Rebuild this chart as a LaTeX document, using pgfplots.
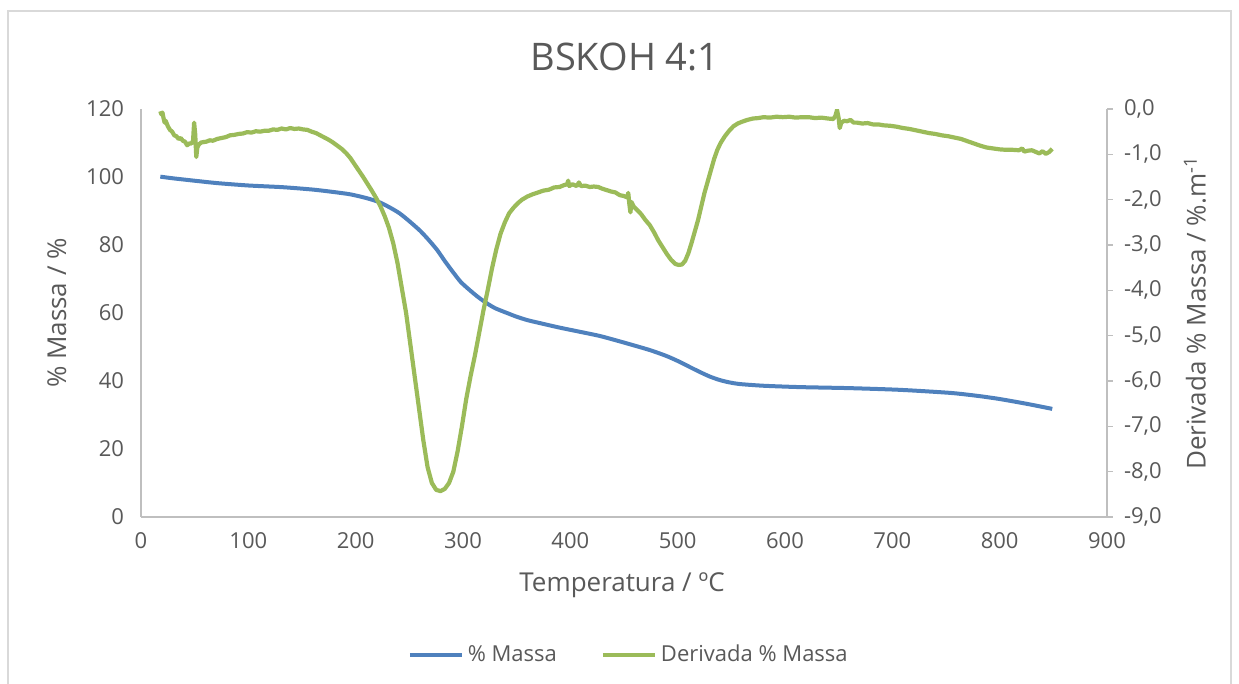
\documentclass[border=0pt]{standalone}
\usepackage{pgfplots}
\pgfplotsset{compat=1.18}
\usepackage{fontspec}
\setmainfont{Open Sans}

\definecolor{txt}{HTML}{595959}
\definecolor{axgray}{HTML}{BFBFBF}
\definecolor{framegray}{HTML}{D9D9D9}
\definecolor{massblue}{HTML}{4F81BD}
\definecolor{derivgreen}{HTML}{9BBB59}

% TGA curve: mass percentage vs temperature
\pgfplotstableread{
T m
18 100.1
30 99.6
50 98.9
71 98.2
100 97.5
132 97.0
160 96.3
179 95.6
195 94.9
210 93.8
222 92.6
232 91.0
241 89.3
250 87.0
260 84.2
268 81.5
276 78.5
283 75.3
291 71.9
298 69.1
306 66.8
314 64.7
322 62.9
330 61.4
341 60.0
350 58.9
360 57.9
372 57.0
390 55.7
410 54.4
428 53.2
450 51.3
474 49.1
490 47.3
502 45.6
512 44.0
521 42.6
530 41.3
539 40.3
548 39.6
558 39.1
580 38.6
614 38.2
660 37.9
707 37.4
754 36.5
780 35.6
800 34.7
825 33.3
849 31.8
}\massdata

% DTG curve: derivative of the mass percentage
\pgfplotstableread{
T d
18 -0.05
19 -0.12
20 -0.08
21 -0.20
22 -0.30
23 -0.26
25 -0.38
27 -0.46
29 -0.50
31 -0.58
33 -0.60
35 -0.66
37 -0.64
39 -0.70
41 -0.72
43 -0.80
45 -0.76
47 -0.76
48.5 -0.70
49.5 -0.30
50.5 -0.55
51.5 -1.06
52.5 -0.85
54 -0.78
56 -0.74
58 -0.73
61 -0.72
64 -0.69
67 -0.70
71 -0.66
75 -0.64
79 -0.62
83 -0.58
87 -0.57
91 -0.55
95 -0.54
99 -0.51
103 -0.52
107 -0.49
111 -0.50
115 -0.48
119 -0.48
123 -0.45
127 -0.46
131 -0.43
135 -0.45
139 -0.42
143 -0.44
147 -0.43
151 -0.45
155 -0.46
159 -0.50
163 -0.53
167 -0.58
171 -0.63
175 -0.68
179 -0.74
183 -0.81
187 -0.88
191 -0.97
195 -1.08
199 -1.22
203 -1.36
207 -1.50
211 -1.65
215 -1.80
219 -1.96
223 -2.14
227 -2.36
231 -2.62
235 -2.96
239 -3.40
243 -3.95
247 -4.50
251 -5.20
255 -5.90
259 -6.60
263 -7.30
267 -7.90
271 -8.25
275 -8.40
279 -8.43
283 -8.38
287 -8.25
291 -8.00
295 -7.55
299 -7.00
303 -6.40
307 -5.90
311 -5.45
315 -4.95
319 -4.45
323 -4.00
327 -3.52
331 -3.10
335 -2.75
339 -2.50
343 -2.30
347 -2.18
351 -2.08
355 -2.00
360 -1.93
365 -1.88
370 -1.84
375 -1.80
380 -1.78
385 -1.73
390 -1.72
394 -1.68
397 -1.66
398 -1.58
399 -1.70
402 -1.66
406 -1.70
408 -1.62
410 -1.70
414 -1.69
418 -1.72
422 -1.71
426 -1.72
430 -1.76
434 -1.79
438 -1.82
442 -1.84
446 -1.90
450 -1.92
453 -1.95
454 -1.85
455 -2.10
456 -2.28
457 -2.05
459 -2.15
462 -2.22
466 -2.32
470 -2.45
474 -2.56
478 -2.72
482 -2.90
486 -3.05
490 -3.20
494 -3.33
498 -3.42
501 -3.44
504 -3.43
507 -3.35
510 -3.18
513 -2.95
516 -2.70
519 -2.45
522 -2.15
525 -1.85
528 -1.60
531 -1.35
534 -1.10
537 -0.90
540 -0.75
544 -0.60
548 -0.48
552 -0.38
556 -0.32
560 -0.28
565 -0.24
570 -0.21
575 -0.20
580 -0.18
586 -0.19
592 -0.17
598 -0.18
604 -0.17
610 -0.19
616 -0.18
622 -0.18
628 -0.20
634 -0.19
640 -0.21
645 -0.22
647 -0.15
648.5 -0.02
650 -0.20
651 -0.42
652.5 -0.30
655 -0.26
658 -0.27
661 -0.24
664 -0.30
667 -0.30
672 -0.32
677 -0.31
682 -0.34
687 -0.34
692 -0.36
698 -0.37
704 -0.39
710 -0.42
716 -0.44
722 -0.47
728 -0.50
734 -0.53
740 -0.55
746 -0.58
752 -0.60
758 -0.63
764 -0.66
770 -0.71
776 -0.76
782 -0.81
788 -0.85
794 -0.87
800 -0.89
806 -0.90
812 -0.90
818 -0.91
821 -0.87
823 -0.94
826 -0.92
830 -0.91
834 -0.95
837 -0.98
840 -0.93
843 -0.99
846 -0.95
849 -0.88
}\derivdata

\pgfplotsset{
  common/.style={
    at={(70.5pt,83.5pt)}, anchor=south west,
    scale only axis, width=483pt, height=204pt,
    xmin=0, xmax=900,
    axis line style={axgray, line width=0.8pt},
    tick label style={font=\fontsize{11}{13}\selectfont, text=txt},
    label style={font=\fontsize{13}{15}\selectfont, text=txt},
    /pgf/number format/assume math mode=true,
  },
}

\begin{document}
\begin{tikzpicture}
\path[use as bounding box] (0pt,0pt) rectangle (619.5pt,342pt);
\draw[framegray, line width=0.8pt] (4pt,0pt) -- (4pt,336.5pt) -- (615.5pt,336.5pt) -- (615.5pt,0pt);

% left axis: mass
\begin{axis}[common,
  ymin=0, ymax=120,
  axis x line*=bottom, axis y line*=left,
  xtick={0,100,...,900}, ytick={0,20,...,120},
  major tick length=0pt,
  xticklabel style={yshift=-4pt},
  yticklabel style={xshift=-5pt},
  xlabel={Temperatura / ºC},
  ylabel={\% Massa / \%},
  xlabel style={at={(axis description cs:0.498,-0.167)}, anchor=center},
  ylabel style={at={(axis description cs:-0.087,0.5)}, anchor=center, rotate=0},
  title={BSKOH 4:1},
  title style={at={(axis description cs:0.501,1.098)}, anchor=center,
    font=\fontsize{19}{22}\selectfont, text=txt},
]
\addplot[massblue, line width=2pt, line join=round, smooth, tension=0.4] table[x=T, y=m] {\massdata};
\end{axis}

% right axis: derivative
\begin{axis}[common,
  ymin=-9, ymax=0,
  axis x line=none, axis y line*=right,
  ytick={-9,-8,...,0},
  tick align=outside, major tick length=3pt,
  major tick style={axgray, line width=0.8pt},
  yticklabel style={xshift=2pt,
    /pgf/number format/.cd, fixed, fixed zerofill, precision=1, use comma},
  ylabel={Derivada \% Massa / \%.m\textsuperscript{-1}},
  ylabel style={at={(axis description cs:1.091,0.5)}, anchor=center, rotate=0},
  legend columns=2,
  legend style={at={(axis description cs:0.506,-0.338)}, anchor=center,
    draw=none, fill=none, font=\fontsize{11}{13}\selectfont, text=txt,
    /tikz/every even column/.append style={column sep=20pt}},
  legend image code/.code={\draw[#1, line width=2pt] (0pt,0pt) -- (26pt,0pt);},
]
\addlegendimage{massblue}
\addlegendentry{\% Massa}
\addplot[derivgreen, line width=2.1pt, line join=round] table[x=T, y=d] {\derivdata};
\addlegendentry{Derivada \% Massa}
\end{axis}
\end{tikzpicture}
\end{document}
